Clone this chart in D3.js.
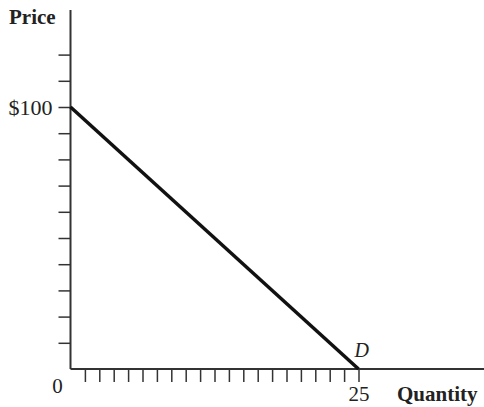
<!DOCTYPE html>
<html>
<head>
<meta charset="utf-8">
<script src="https://cdn.jsdelivr.net/npm/d3@7"></script>
<style>
  body { margin: 0; background: #fff; }
  text { font-family: "Liberation Serif", "Times New Roman", serif; fill: #222; }
</style>
</head>
<body>
<script>
// demand curve points (quantity, price)
var demand = [{q: 0, p: 100}, {q: 25, p: 0}];
// price ticks every $10, only $100 labelled
var priceTicks = [10, 20, 30, 40, 50, 60, 70, 80, 90, 100, 110, 120];
var priceLabels = {100: "$100"};
// quantity ticks, 20 marks between 0 and 25
var qtyTicks = [1.25, 2.5, 3.75, 5, 6.25, 7.5, 8.75, 10, 11.25, 12.5, 13.75, 15,
                16.25, 17.5, 18.75, 20, 21.25, 22.5, 23.75, 25];
var qtyLabels = {25: "25"};

var w = 484, h = 407;
var x0 = 70.5, y0 = 369;

var x = d3.scaleLinear().domain([0, 25]).range([x0, 358.5]);
var y = d3.scaleLinear().domain([0, 100]).range([y0, 107]);

var svg = d3.select("body").append("svg")
  .attr("width", w)
  .attr("height", h);

// y axis
var yAxis = d3.axisLeft(y)
  .tickValues(priceTicks)
  .tickSize(12)
  .tickFormat(function(d) { return priceLabels[d] || ""; });

var gy = svg.append("g")
  .attr("transform", "translate(" + x0 + ",0)")
  .call(yAxis);
gy.select(".domain").remove();
gy.selectAll(".tick line").attr("stroke", "#333").attr("stroke-width", 1.5);
gy.selectAll(".tick text")
  .attr("x", -18)
  .style("font-size", "22px")
  .style("font-family", "Liberation Serif, serif")
  .attr("fill", "#222");

svg.append("line")
  .attr("x1", x0).attr("x2", x0)
  .attr("y1", 10).attr("y2", y0)
  .attr("stroke", "#333")
  .attr("stroke-width", 2);

// x axis
var xAxis = d3.axisBottom(x)
  .tickValues(qtyTicks)
  .tickSize(13)
  .tickFormat(function(d) { return qtyLabels[d] || ""; });

var gx = svg.append("g")
  .attr("transform", "translate(0," + y0 + ")")
  .call(xAxis);
gx.select(".domain").remove();
gx.selectAll(".tick line").attr("stroke", "#333").attr("stroke-width", 1.5);
gx.selectAll(".tick text")
  .attr("y", 17)
  .style("font-size", "21px")
  .style("font-family", "Liberation Serif, serif")
  .attr("fill", "#222");

svg.append("line")
  .attr("x1", x0).attr("x2", w)
  .attr("y1", y0).attr("y2", y0)
  .attr("stroke", "#333")
  .attr("stroke-width", 2);

// origin label
svg.append("text")
  .attr("x", x(0) - 13)
  .attr("y", 393)
  .attr("text-anchor", "middle")
  .style("font-size", "21px")
  .text("0");

// axis titles
svg.append("text")
  .attr("x", 9)
  .attr("y", 24)
  .style("font-size", "21px")
  .style("font-weight", "bold")
  .text("Price");

svg.append("text")
  .attr("x", 397)
  .attr("y", 401)
  .style("font-size", "21px")
  .style("font-weight", "bold")
  .text("Quantity");

// demand line
var line = d3.line()
  .x(function(d) { return x(d.q); })
  .y(function(d) { return y(d.p); });

svg.append("path")
  .datum(demand)
  .attr("d", line)
  .attr("fill", "none")
  .attr("stroke", "#111")
  .attr("stroke-width", 3.5);

svg.append("text")
  .attr("x", x(25) - 4)
  .attr("y", 357)
  .style("font-size", "20px")
  .style("font-style", "italic")
  .text("D");
</script>
</body>
</html>
